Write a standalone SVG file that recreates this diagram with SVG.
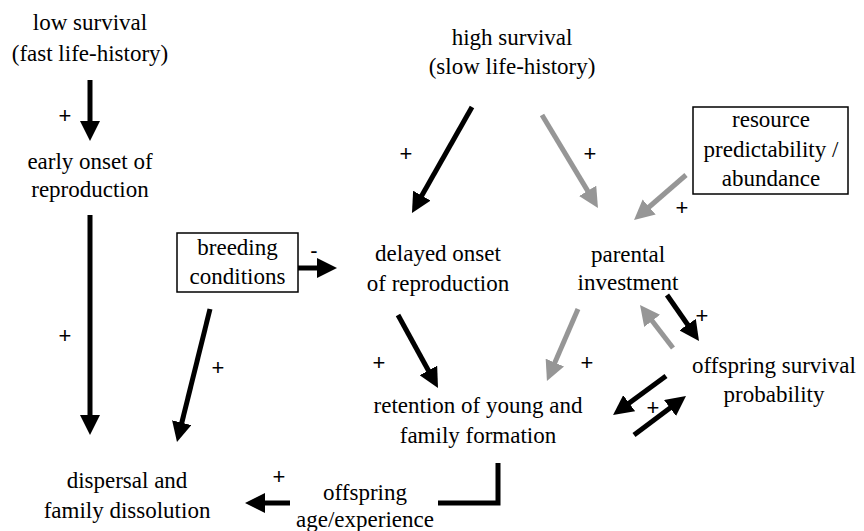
<svg xmlns="http://www.w3.org/2000/svg" width="864" height="531" viewBox="0 0 864 531">
<style>
.k{stroke:#000;stroke-width:5;fill:none}
.g{stroke:#969696;stroke-width:5;fill:none}
.box{fill:#fff;stroke:#000;stroke-width:1.5}
</style>
<defs>
<marker id="hk" viewBox="0 0 20 20" refX="10" refY="10" markerWidth="20" markerHeight="20" markerUnits="userSpaceOnUse" orient="auto"><path d="M0,0 L20,10 L0,20 z" fill="#000"/></marker>
<marker id="hg" viewBox="0 0 20 20" refX="10" refY="10" markerWidth="20" markerHeight="20" markerUnits="userSpaceOnUse" orient="auto"><path d="M0,0 L20,10 L0,20 z" fill="#969696"/></marker>
</defs>
<rect width="864" height="531" fill="#fff"/>
<g text-anchor="middle" fill="#000">
<g id="low-survival"><text font-family="Liberation Serif" font-size="23" x="90" y="30">low survival</text><text font-family="Liberation Serif" font-size="23" x="90" y="61">(fast life-history)</text></g>
<g id="early-onset"><text font-family="Liberation Serif" font-size="23" x="90" y="169">early onset of</text><text font-family="Liberation Serif" font-size="23" x="90" y="197">reproduction</text></g>
<g id="breeding-conditions"><rect class="box" x="177" y="233" width="121" height="59"/><text font-family="Liberation Serif" font-size="23" x="237.5" y="255">breeding</text><text font-family="Liberation Serif" font-size="23" x="237.5" y="284">conditions</text></g>
<g id="dispersal"><text font-family="Liberation Serif" font-size="23" x="127" y="488">dispersal and</text><text font-family="Liberation Serif" font-size="23" x="127" y="518">family dissolution</text></g>
<g id="offspring-age"><text font-family="Liberation Serif" font-size="23" x="365" y="500">offspring</text><text font-family="Liberation Serif" font-size="23" x="365" y="527">age/experience</text></g>
<g id="high-survival"><text font-family="Liberation Serif" font-size="23" x="512" y="45">high survival</text><text font-family="Liberation Serif" font-size="23" x="512" y="74">(slow life-history)</text></g>
<g id="delayed-onset"><text font-family="Liberation Serif" font-size="23" x="438" y="261">delayed onset</text><text font-family="Liberation Serif" font-size="23" x="438" y="291">of reproduction</text></g>
<g id="parental-investment"><text font-family="Liberation Serif" font-size="23" x="628" y="262">parental</text><text font-family="Liberation Serif" font-size="23" x="628" y="290">investment</text></g>
<g id="resource"><rect class="box" x="693" y="107" width="155" height="87"/><text font-family="Liberation Serif" font-size="23" x="771" y="127">resource</text><text font-family="Liberation Serif" font-size="23" x="771" y="157">predictability /</text><text font-family="Liberation Serif" font-size="23" x="771" y="186">abundance</text></g>
<g id="retention"><text font-family="Liberation Serif" font-size="23" x="478" y="413">retention of young and</text><text font-family="Liberation Serif" font-size="23" x="478" y="443">family formation</text></g>
<g id="offspring-survival"><text font-family="Liberation Serif" font-size="23" x="774" y="373">offspring survival</text><text font-family="Liberation Serif" font-size="23" x="774" y="402">probability</text></g>
</g>
<g id="connectors">
<line class="k" x1="90" y1="80" x2="90" y2="131" marker-end="url(#hk)"/>
<line class="k" x1="90" y1="215" x2="90" y2="425" marker-end="url(#hk)"/>
<line class="k" x1="298" y1="268" x2="327" y2="268" marker-end="url(#hk)"/>
<line class="k" x1="210" y1="309" x2="179.4" y2="432.3" marker-end="url(#hk)"/>
<line class="k" x1="290" y1="503" x2="255" y2="503" marker-end="url(#hk)"/>
<polyline class="k" points="498,463 498,503 438,503"/>
<line class="k" x1="398" y1="315" x2="433.2" y2="379.2" marker-end="url(#hk)"/>
<line class="g" x1="578" y1="309" x2="550.9" y2="371.8" marker-end="url(#hg)"/>
<line class="k" x1="472" y1="107" x2="416.9" y2="204.3" marker-end="url(#hk)"/>
<line class="g" x1="542" y1="115" x2="592.8" y2="199.4" marker-end="url(#hg)"/>
<line class="g" x1="686" y1="175" x2="641.6" y2="213.5" marker-end="url(#hg)"/>
<line class="k" x1="667" y1="295" x2="693.3" y2="332.8" marker-end="url(#hk)"/>
<line class="g" x1="673" y1="348" x2="646.1" y2="312.9" marker-end="url(#hg)"/>
<line class="k" x1="666" y1="376" x2="621.1" y2="409.1" marker-end="url(#hk)"/>
<line class="k" x1="634" y1="435" x2="678" y2="402" marker-end="url(#hk)"/>
</g>
<g id="signs" text-anchor="middle" fill="#000">
<text font-family="Liberation Sans" font-size="22" x="65" y="123">+</text>
<text font-family="Liberation Sans" font-size="22" x="65" y="343">+</text>
<text font-family="Liberation Sans" font-size="22" x="314" y="258">-</text>
<text font-family="Liberation Sans" font-size="22" x="218" y="375">+</text>
<text font-family="Liberation Sans" font-size="22" x="279" y="484">+</text>
<text font-family="Liberation Sans" font-size="22" x="379" y="370">+</text>
<text font-family="Liberation Sans" font-size="22" x="587" y="370">+</text>
<text font-family="Liberation Sans" font-size="22" x="406" y="161">+</text>
<text font-family="Liberation Sans" font-size="22" x="590" y="161">+</text>
<text font-family="Liberation Sans" font-size="22" x="682" y="215">+</text>
<text font-family="Liberation Sans" font-size="22" x="702" y="323">+</text>
<text font-family="Liberation Sans" font-size="22" x="653" y="415">+</text>
</g>
</svg>
